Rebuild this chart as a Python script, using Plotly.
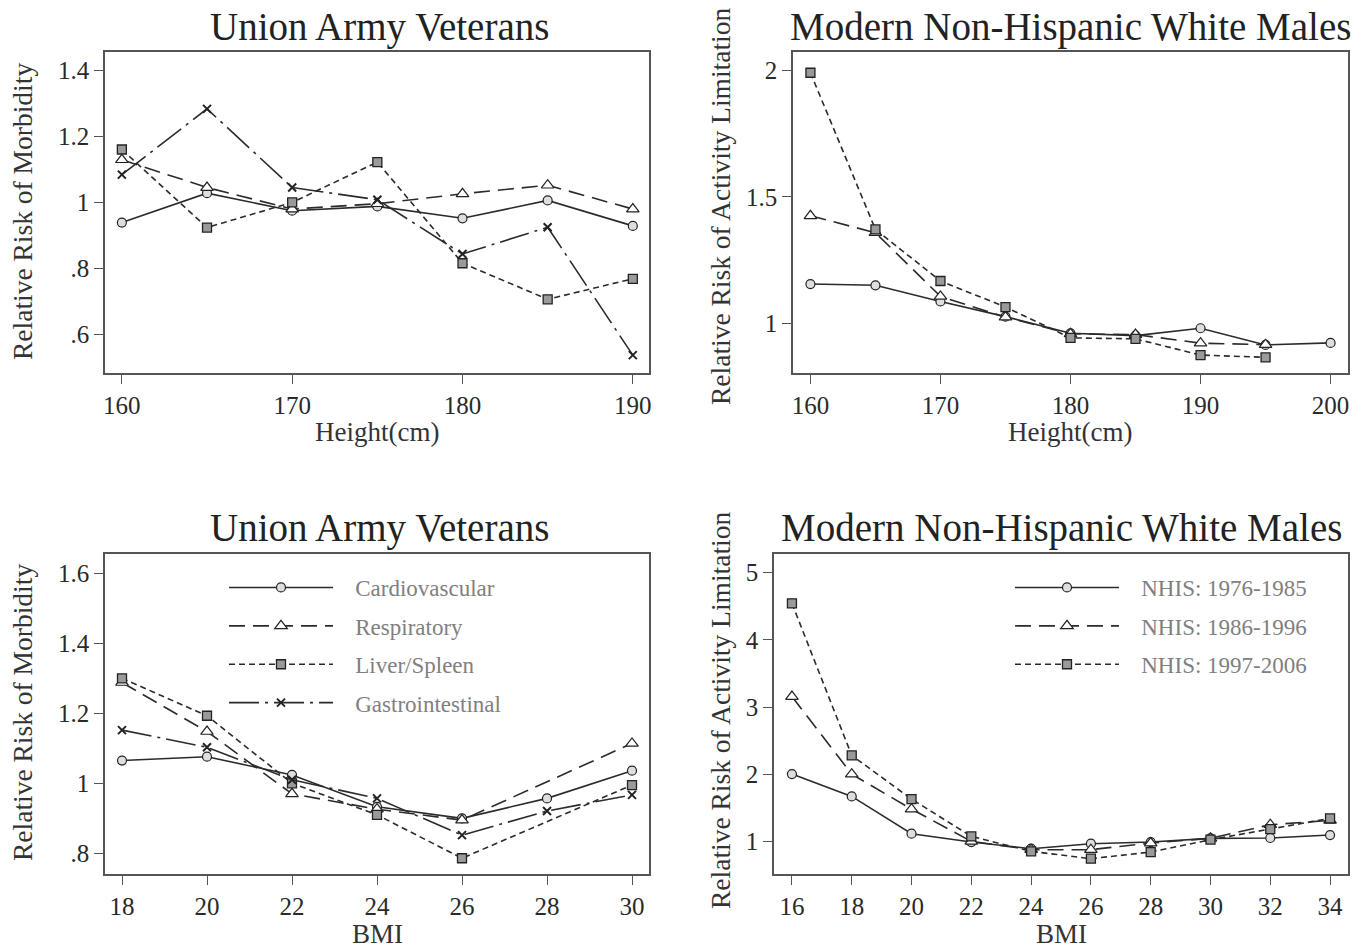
import plotly.graph_objects as go

# ---------------- data ----------------
height_ua = [160, 165, 170, 175, 180, 185, 190]
ua_cardio_h = [0.939, 1.028, 0.975, 0.988, 0.952, 1.006, 0.929]
ua_resp_h = [1.129, 1.045, 0.980, 0.996, 1.026, 1.052, 0.980]
ua_liver_h = [1.160, 0.924, 1.000, 1.122, 0.816, 0.707, 0.769]
ua_gastro_h = [1.084, 1.283, 1.045, 1.008, 0.844, 0.925, 0.538]

height_nh = [160, 165, 170, 175, 180, 185, 190, 195, 200]
nh_7685_h = [1.155, 1.150, 1.086, 1.026, 0.960, 0.951, 0.980, 0.914, 0.922]
nh_8696_h = [1.425, 1.358, 1.106, 1.024, 0.958, 0.955, 0.921, 0.915, None]
nh_9706_h = [1.991, 1.371, 1.167, 1.064, 0.942, 0.938, 0.874, 0.865, None]

bmi_ua = [18, 20, 22, 24, 26, 28, 30]
ua_cardio_b = [1.065, 1.076, 1.024, 0.933, 0.900, 0.957, 1.036]
ua_resp_b = [1.288, 1.148, 0.970, 0.926, 0.895, None, 1.114]
ua_liver_b = [1.300, 1.193, 1.000, 0.910, 0.786, None, 0.995]
ua_gastro_b = [1.152, 1.103, 1.010, 0.957, 0.852, 0.921, 0.967]

bmi_nh = [16, 18, 20, 22, 24, 26, 28, 30, 32, 34]
nh_7685_b = [2.001, 1.669, 1.114, 0.990, 0.891, 0.965, 0.990, 1.045, 1.050, 1.094]
nh_8696_b = [3.156, 2.000, 1.480, 1.000, 0.876, 0.876, 0.975, 1.045, 1.248, 1.312]
nh_9706_b = [4.544, 2.279, 1.630, 1.074, 0.851, 0.742, 0.841, 1.025, 1.183, 1.342]

ua_names = ["Cardiovascular", "Respiratory", "Liver/Spleen", "Gastrointestinal"]
nh_names = ["NHIS: 1976-1985", "NHIS: 1986-1996", "NHIS: 1997-2006"]

# ---------------- styles ----------------
W, H = 1366, 950
FONT = "Liberation Serif"
LC = "#2b2b2b"
PAD = "\u00a0\u00a0\u00a0"  # gap between legend sample and label

styles = [
    dict(dash="solid", marker=dict(symbol="circle", size=9, color="#dedede",
                                   line=dict(color="#222", width=1.2))),
    dict(dash="16px,8px", marker=dict(symbol="triangle-up", size=11, color="white",
                                      line=dict(color="#222", width=1.2))),
    dict(dash="6px,4px", marker=dict(symbol="square", size=9, color="#9a9a9a",
                                     line=dict(color="#222", width=1.3))),
    dict(dash="30px,6px,3px,6px", marker=dict(symbol="x-thin", size=8, color="#222",
                                              line=dict(color="#222", width=2))),
]


def px_x(p):
    return p / W


def px_y(p):
    return 1 - p / H


fig = go.Figure()


def add(x, y, i, name, xa, ya, showlegend=False, legend="legend"):
    s = styles[i]
    fig.add_trace(go.Scatter(
        x=x, y=y, name=PAD + name, mode="lines+markers", connectgaps=True,
        line=dict(color=LC, width=1.6, dash=s["dash"]),
        marker=s["marker"], xaxis=xa, yaxis=ya,
        showlegend=showlegend, legend=legend, legendgroup=name + xa,
    ))


for i, ys in enumerate([ua_cardio_h, ua_resp_h, ua_liver_h, ua_gastro_h]):
    add(height_ua, ys, i, ua_names[i], "x", "y")
for i, ys in enumerate([nh_7685_h, nh_8696_h, nh_9706_h]):
    add(height_nh, ys, i, nh_names[i], "x2", "y2")
for i, ys in enumerate([ua_cardio_b, ua_resp_b, ua_liver_b, ua_gastro_b]):
    add(bmi_ua, ys, i, ua_names[i], "x3", "y3", showlegend=True, legend="legend")
for i, ys in enumerate([nh_7685_b, nh_8696_b, nh_9706_b]):
    add(bmi_nh, ys, i, nh_names[i], "x4", "y4", showlegend=True, legend="legend2")

# ---------------- axes ----------------
tickfont = dict(family=FONT, size=25, color="#2a2a2a")
axcommon = dict(showline=True, linecolor="#555", linewidth=1.5, mirror=True,
                ticks="outside", ticklen=9, tickwidth=1.3, tickcolor="#555",
                showgrid=False, zeroline=False, tickfont=tickfont,
                automargin=False, fixedrange=True)

top = [px_y(373), px_y(52)]
bot = [px_y(874), px_y(554)]

fig.update_layout(
    xaxis=dict(domain=[px_x(105), px_x(649)], range=[159.01, 190.95], anchor="y",
               tickvals=[160, 170, 180, 190], **axcommon),
    yaxis=dict(domain=top, range=[0.484, 1.455], anchor="x",
               tickvals=[0.6, 0.8, 1.0, 1.2, 1.4], ticktext=[".6", ".8", "1", "1.2", "1.4"],
               **axcommon),
    xaxis2=dict(domain=[px_x(793), px_x(1348)], range=[158.66, 201.34], anchor="y2",
                tickvals=[160, 170, 180, 190, 200], **axcommon),
    yaxis2=dict(domain=top, range=[0.803, 2.073], anchor="x2",
                tickvals=[1, 1.5, 2], ticktext=["1", "1.5", "2"], **axcommon),
    xaxis3=dict(domain=[px_x(105), px_x(649)], range=[17.60, 30.40], anchor="y3",
                tickvals=[18, 20, 22, 24, 26, 28, 30], **axcommon),
    yaxis3=dict(domain=bot, range=[0.741, 1.655], anchor="x3",
                tickvals=[0.8, 1.0, 1.2, 1.4, 1.6], ticktext=[".8", "1", "1.2", "1.4", "1.6"],
                **axcommon),
    xaxis4=dict(domain=[px_x(774), px_x(1348)], range=[15.40, 34.60], anchor="y4",
                tickvals=[16, 18, 20, 22, 24, 26, 28, 30, 32, 34], **axcommon),
    yaxis4=dict(domain=bot, range=[0.514, 5.278], anchor="x4",
                tickvals=[1, 2, 3, 4, 5], **axcommon),
)

legfont = dict(family=FONT, size=23, color="#808080")
fig.update_layout(
    legend=dict(x=px_x(224), y=px_y(566), xanchor="left", yanchor="top",
                bgcolor="rgba(0,0,0,0)", borderwidth=0, font=legfont,
                itemwidth=104, tracegroupgap=5.5, itemclick=False, itemdoubleclick=False),
    legend2=dict(x=px_x(1010), y=px_y(566), xanchor="left", yanchor="top",
                 bgcolor="rgba(0,0,0,0)", borderwidth=0, font=legfont,
                 itemwidth=104, tracegroupgap=5.5, itemclick=False, itemdoubleclick=False),
)

# ---------------- text ----------------
ann = []


def text(t, x, y, size, color="#222", angle=0):
    ann.append(dict(text=t, x=px_x(x), y=px_y(y), xref="paper", yref="paper",
                    xanchor="center", yanchor="middle", showarrow=False, textangle=angle,
                    font=dict(family=FONT, size=size, color=color)))


text("Union Army Veterans", 379, 27, 39)
text("Modern Non-Hispanic White Males", 1070, 27, 39)
text("Union Army Veterans", 379, 528, 39)
text("Modern Non-Hispanic White Males", 1061, 528, 39)
text("Height(cm)", 377, 432, 27, "#333")
text("Height(cm)", 1070, 432, 27, "#333")
text("BMI", 377, 934, 27, "#333")
text("BMI", 1061, 934, 27, "#333")
text("Relative Risk of Morbidity", 22, 212, 27.5, "#333", -90)
text("Relative Risk of Morbidity", 22, 713, 27.5, "#333", -90)
text("Relative Risk of Activity Limitation", 720, 207, 27.5, "#333", -90)
text("Relative Risk of Activity Limitation", 720, 711, 27.5, "#333", -90)

fig.update_layout(
    annotations=ann, width=W, height=H, template="none",
    margin=dict(l=0, r=0, t=0, b=0), paper_bgcolor="white", plot_bgcolor="white",
    font=dict(family=FONT),
)

fig.write_html("out.html", post_script="document.body.style.margin='0';",
               config={"displayModeBar": False})
